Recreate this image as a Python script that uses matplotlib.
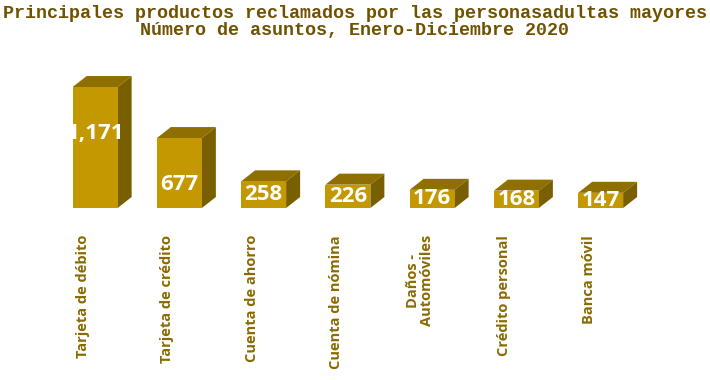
import matplotlib
matplotlib.use("Agg")
import matplotlib.pyplot as plt
from matplotlib.patches import Polygon
import matplotlib.transforms as mtransforms

categories = ["Tarjeta de débito", "Tarjeta de crédito", "Cuenta de ahorro",
              "Cuenta de nómina", "Daños -\nAutomóviles", "Crédito personal",
              "Banca móvil"]
values = [1171, 677, 258, 226, 176, 168, 147]
value_labels = ["1,171", "677", "258", "226", "176", "168", "147"]

title_lines = ["Principales productos reclamados por las personasadultas mayores",
               "Número de asuntos, Enero-Diciembre 2020"]

FRONT = "#C49800"
TOP = "#8F6F00"
SIDE = "#7A5F00"
TITLE_C = "#6E5200"
LABEL_C = "#8A6A00"

W, H = 710, 380
fig = plt.figure(figsize=(W / 100, H / 100), dpi=100)
left_px, right_px = 53, 642.75
base_px, top_px = 208, 73.7
ax = fig.add_axes([left_px / W, (H - base_px) / H, (right_px - left_px) / W, (base_px - top_px) / H])
ax.set_xlim(-0.5, len(values) - 0.5)
ax.set_ylim(0, 1300)
ax.axis("off")

bw = 0.534
xs = list(range(len(values)))
ax.bar(xs, values, width=bw, color=FRONT, zorder=3)

fig.canvas.draw()
inv = ax.transData.inverted()
p0 = inv.transform(ax.transData.transform((0, 0)))
dx_px, dy_px = 14, 11
pd = inv.transform(ax.transData.transform((0, 0)) + [dx_px, dy_px])
ddx, ddy = pd[0] - p0[0], pd[1] - p0[1]

for x, v in zip(xs, values):
    l, r = x - bw / 2, x + bw / 2
    top = Polygon([(l, v), (r, v), (r + ddx, v + ddy), (l + ddx, v + ddy)],
                  closed=True, facecolor=TOP, edgecolor="none", clip_on=False, zorder=2)
    side = Polygon([(r, 0), (r + ddx, ddy), (r + ddx, v + ddy), (r, v)],
                   closed=True, facecolor=SIDE, edgecolor="none", clip_on=False, zorder=2)
    ax.add_patch(top)
    ax.add_patch(side)

px_per_unit = (base_px - top_px) / 1300
for x, v, lab in zip(xs, values, value_labels):
    h = v * px_per_unit
    ypx = h - 46 if h > 60 else 0.5 * h
    ax.text(x, ypx / px_per_unit, lab, ha="center", va="center", color="white",
            fontsize=16, fontweight="bold", family="Open Sans", zorder=5, clip_on=False)

off = mtransforms.ScaledTranslation(-12 / 100, -27 / 100, fig.dpi_scale_trans)
for x, c in zip(xs, categories):
    ax.text(x, 0, c, transform=ax.transData + off,
            rotation=90, ha="center", va="top", multialignment="center",
            color=LABEL_C, fontsize=10.5, fontweight="bold", family="Open Sans",
            linespacing=1.0)

for i, line in enumerate(title_lines):
    fig.text(0.5, 1 - (13 + 18 * i) / H, line, ha="center", va="center", color=TITLE_C,
             fontsize=13.2, fontweight="bold", family="Liberation Mono")

fig.savefig("out.png", dpi=100, facecolor="white")
